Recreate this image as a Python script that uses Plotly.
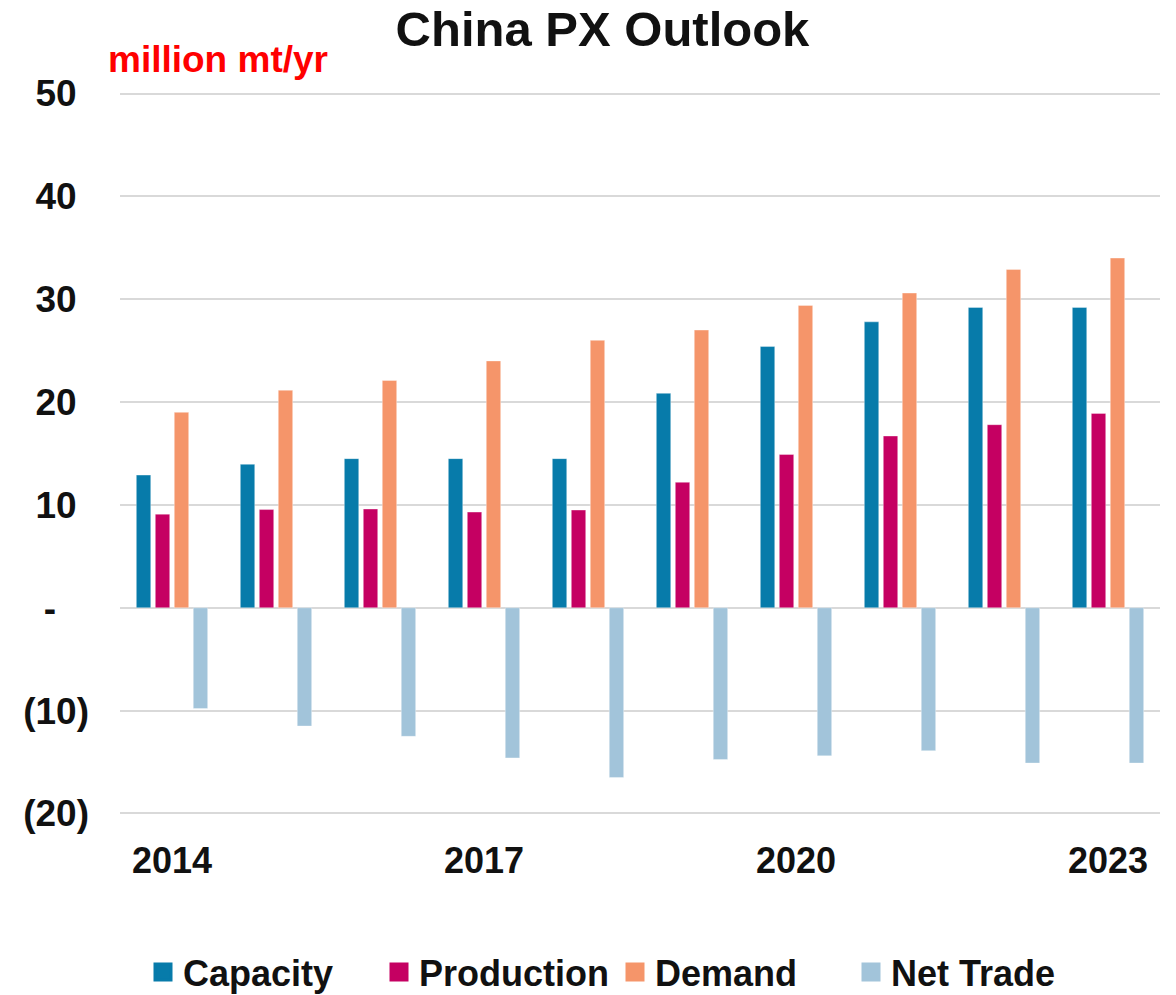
import plotly.graph_objects as go

years = ["2014", "2015", "2016", "2017", "2018", "2019", "2020", "2021", "2022", "2023"]
capacity = [12.9, 13.95, 14.5, 14.5, 14.5, 20.85, 25.4, 27.8, 29.2, 29.2]
production = [9.1, 9.55, 9.6, 9.3, 9.5, 12.2, 14.9, 16.7, 17.8, 18.9]
demand = [19.0, 21.15, 22.1, 24.0, 26.0, 27.0, 29.4, 30.6, 32.9, 34.0]
net_trade = [-9.8, -11.5, -12.5, -14.6, -16.5, -14.75, -14.4, -13.9, -15.1, -15.1]

series_names = ["Capacity", "Production", "Demand", "Net Trade"]
series_vals = [capacity, production, demand, net_trade]
colors = ["#077BAA", "#C50062", "#F5956A", "#A2C4DA"]

x_tickvals = ["2014", "2017", "2020", "2023"]
y_tickvals = [-20, -10, 0, 10, 20, 30, 40, 50]
HID = "<span style='color:#ffffff'>%s</span>"
y_ticktext = ["(20)", "(10)", "-" + HID % "0)", "10" + HID % ")", "20" + HID % ")",
              "30" + HID % ")", "40" + HID % ")", "50" + HID % ")"]

FONT = "Liberation Sans, Arial, sans-serif"

fig = go.Figure()
for name, vals, col in zip(series_names, series_vals, colors):
    fig.add_trace(go.Bar(
        x=years, y=vals, name=name, showlegend=False,
        marker=dict(color=col, line=dict(width=1, color="rgba(255,255,255,0.35)")),
    ))
# legend entries
for name, col in zip(series_names, colors):
    fig.add_trace(go.Scatter(
        x=[None], y=[None], name=name, mode="markers",
        marker=dict(symbol="square", size=16, color=col, line=dict(width=3, color=col)),
    ))

PLOT_L, PLOT_R, PLOT_T, PLOT_B = 120, 1160, 92, 815
fig.update_layout(
    width=1176, height=995,
    margin=dict(l=PLOT_L, r=1176 - PLOT_R, t=PLOT_T, b=995 - PLOT_B),
    paper_bgcolor="white", plot_bgcolor="white",
    barmode="group", bargap=0.27, bargroupgap=0.24,
    font=dict(family=FONT, size=37, color="#111111", weight="bold"),
    title=dict(text="China PX Outlook", x=0.5123, xanchor="center",
               xref="container", yref="container", y=0.971, yanchor="middle",
               font=dict(family=FONT, size=49, color="#111111", weight="bold")),
    legend=dict(orientation="h", xref="paper", x=(143 - PLOT_L) / (PLOT_R - PLOT_L), xanchor="left",
                yref="container", y=1 - 972 / 995, yanchor="middle",
                entrywidth=191, entrywidthmode="pixels",
                font=dict(family=FONT, size=36, color="#111111", weight="bold"),
                bgcolor="rgba(0,0,0,0)"),
    annotations=[dict(text="million mt/yr", xref="paper", yref="paper",
                      x=(106 - PLOT_L) / (PLOT_R - PLOT_L), xanchor="left",
                      y=(PLOT_B - 60) / (PLOT_B - PLOT_T), yanchor="middle", showarrow=False,
                      font=dict(family=FONT, size=37, color="#FF0000", weight="bold"))],
)
fig.update_xaxes(type="category", tickmode="array", tickvals=x_tickvals, ticktext=x_tickvals,
                 showgrid=False, showline=False, ticks="", ticklabelstandoff=21,
                 tickfont=dict(family=FONT, size=36, color="#111111", weight="bold"))
fig.update_yaxes(range=[-20.15, 50.15], tickmode="array", tickvals=y_tickvals, ticktext=y_ticktext,
                 showgrid=True, gridcolor="#D9D9D9", gridwidth=2,
                 zeroline=True, zerolinecolor="#D9D9D9", zerolinewidth=2,
                 showline=False, ticks="", ticklabelstandoff=30,
                 tickfont=dict(family=FONT, size=37, color="#111111", weight="bold"))

fig.write_html("out.html", config={"displayModeBar": False},
               post_script="document.body.style.margin='0';document.body.style.padding='0';")
